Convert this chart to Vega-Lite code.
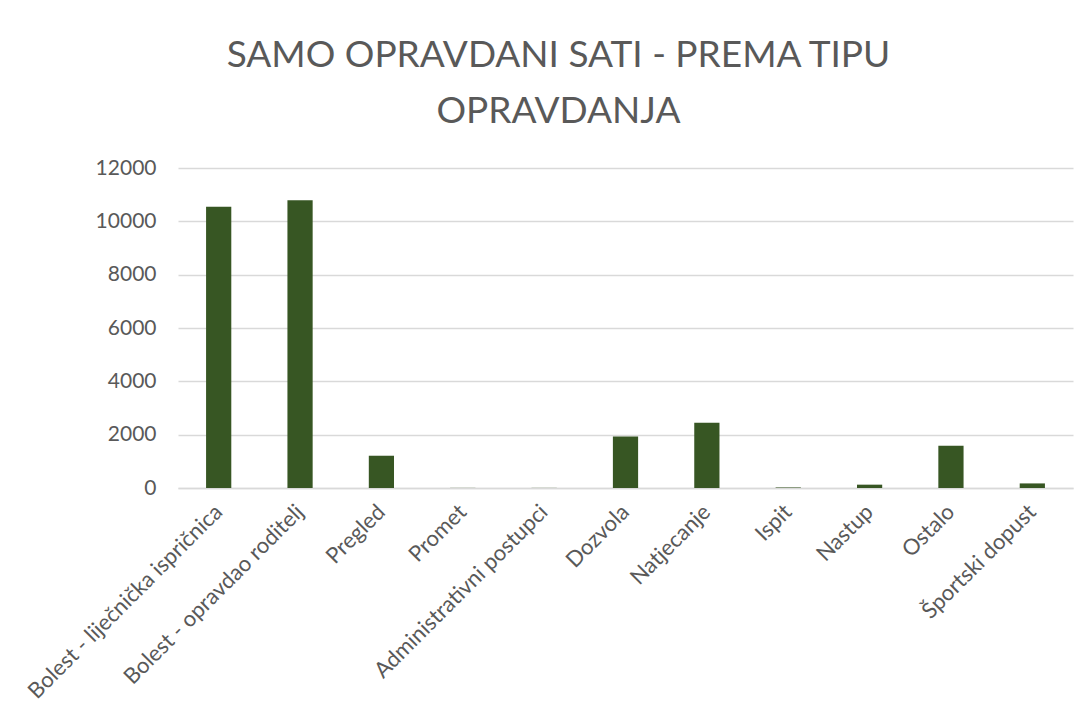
{
  "$schema": "https://vega.github.io/schema/vega-lite/v6.json",
  "autosize": {"type": "none"},
  "width": 895,
  "height": 320,
  "padding": {"left": 178, "top": 168, "right": 18, "bottom": 236},
  "background": "white",
  "title": {
    "text": ["SAMO OPRAVDANI SATI - PREMA TIPU", "OPRAVDANJA"],
    "font": "Lato",
    "fontSize": 37,
    "fontWeight": "normal",
    "color": "#595959",
    "anchor": "middle",
    "frame": "group",
    "dx": -67,
    "lineHeight": 56,
    "offset": 26
  },
  "data": {
    "values": [
      {"tip": "Bolest - liječnička ispričnica", "sati": 10546},
      {"tip": "Bolest - opravdao roditelj", "sati": 10786},
      {"tip": "Pregled", "sati": 1210},
      {"tip": "Promet", "sati": 5},
      {"tip": "Administrativni postupci", "sati": 5},
      {"tip": "Dozvola", "sati": 1932},
      {"tip": "Natjecanje", "sati": 2446},
      {"tip": "Ispit", "sati": 20},
      {"tip": "Nastup", "sati": 125},
      {"tip": "Ostalo", "sati": 1584},
      {"tip": "Športski dopust", "sati": 172}
    ]
  },
  "mark": {"type": "bar", "color": "#375623"},
  "encoding": {
    "x": {
      "field": "tip",
      "type": "nominal",
      "sort": null,
      "scale": {"paddingInner": 0.69, "paddingOuter": 0.345},
      "axis": {
        "title": null,
        "labelAngle": -45,
        "labelAlign": "right",
        "labelBaseline": "middle",
        "labelFont": "Lato",
        "labelFontSize": 22,
        "labelColor": "#595959",
        "labelPadding": 20,
        "ticks": false,
        "domainColor": "#d9d9d9",
        "domainWidth": 1.5,
        "grid": false,
        "labelLimit": 400
      }
    },
    "y": {
      "field": "sati",
      "type": "quantitative",
      "scale": {"domain": [0, 12000], "nice": false},
      "axis": {
        "title": null,
        "values": [0, 2000, 4000, 6000, 8000, 10000, 12000],
        "format": "d",
        "domain": false,
        "ticks": false,
        "grid": true,
        "gridColor": "#d9d9d9",
        "gridWidth": 1.5,
        "labelFont": "Lato",
        "labelFontSize": 21,
        "labelColor": "#595959",
        "labelPadding": 22
      }
    }
  },
  "config": {"view": {"stroke": null}}
}
